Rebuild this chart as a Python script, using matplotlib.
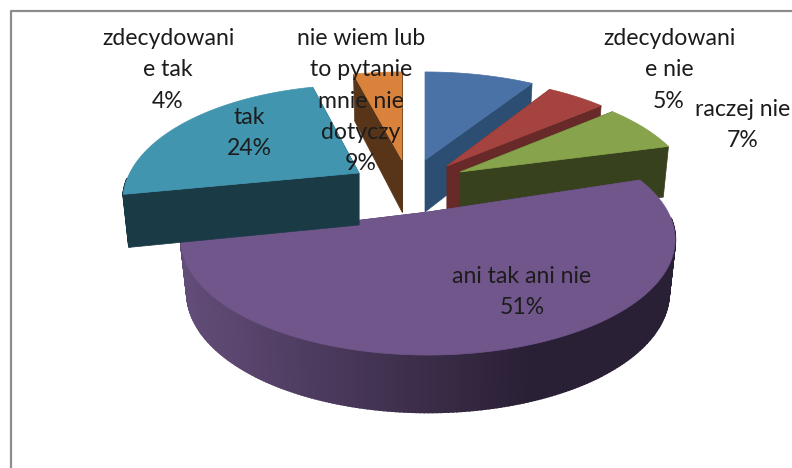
import numpy as np
from matplotlib import pyplot as plt
from matplotlib.patches import Polygon

plt.rcParams["font.family"] = ["Lato", "DejaVu Sans"]

# data, in drawing order (clockwise from the top)
categories = [
    "nie wiem lub\nto pytanie\nmnie nie\ndotyczy",
    "zdecydowani\ne nie",
    "raczej nie",
    "ani tak ani nie",
    "tak",
    "zdecydowani\ne tak",
]
percents = [9, 5, 7, 51, 24, 4]

# styles and layout, same order as the data
topColors = ["#4a72a6", "#a4433f", "#87a34b", "#71568c", "#4195ae", "#d9823b"]
wallColors = ["#2c4e73", "#682a28", "#38411d", "#4a3a5c", "#1a3a46", "#583519"]
apexes = [(425, 160), (447, 166), (460, 172), (428, 212), (359, 173), (402, 160)]
widthScales = [1.0, 0.96, 0.95, 1.0, 0.955, 1.0]
angleNudges = [0, 0, 0, 4, 0, 0]
labelCenters = [(361, 101), (669, 70), (743, 125), (522, 292), (249, 133), (168, 70)]
paintOrder = [0, 1, 2, 5, 3, 4]

START_ANGLE = 90.0
PERSPECTIVE = 0.238
SCALE_X = 240.0
SCALE_Y = 109.0
DEPTH = 52.0
BOTTOM_SHRINK = 0.975


def project(apex, angles, widthScale):
    u = np.cos(np.radians(angles))
    v = np.sin(np.radians(angles))
    w = 1 + PERSPECTIVE * v
    return apex[0] + SCALE_X * widthScale * u / w, apex[1] - SCALE_Y * v / w, v


def drop(apex, x, y, v):
    # same point on the underside of the pie
    return apex[0] + (x - apex[0]) * BOTTOM_SHRINK, y + DEPTH * (1 - 0.1 * v)


def quad(ax, xs, ys, color, zorder, linewidth=0.5):
    ax.add_patch(
        Polygon(
            np.column_stack([xs, ys]),
            closed=True,
            facecolor=color,
            edgecolor=color,
            linewidth=linewidth,
            zorder=zorder,
        )
    )


def drawSlice(ax, apex, start, sweep, widthScale, topColor, wallColor, zorder, shaded=False):
    angles = np.linspace(start, start - sweep, 240)
    x, y, v = project(apex, angles, widthScale)
    xb, yb = drop(apex, x, y, v)
    ax0, ay0 = apex
    bx0, by0 = apex[0], apex[1] + DEPTH

    # the two straight walls
    quad(ax, [ax0, x[0], xb[0], bx0], [ay0, y[0], yb[0], by0], wallColor, zorder)
    quad(ax, [ax0, x[-1], xb[-1], bx0], [ay0, y[-1], yb[-1], by0], wallColor, zorder)

    # rounded wall, cut in strips so it can carry the shading
    left = np.array([0x62, 0x4c, 0x78]) / 255
    right = np.array([0x2a, 0x20, 0x35]) / 255
    for i in range(len(angles) - 1):
        # far side of the rim is behind the top face
        if v[i] > -0.05:
            continue
        color = wallColor
        if shaded:
            t = np.clip((x[i] - 185) / (530 - 185), 0, 1)
            color = tuple(left + (right - left) * t)
        quad(
            ax,
            [x[i], x[i + 1], xb[i + 1], xb[i]],
            [y[i], y[i + 1], yb[i + 1], yb[i]],
            color,
            zorder + 0.1,
            linewidth=1.5,
        )

    quad(ax, np.r_[ax0, x], np.r_[ay0, y], topColor, zorder + 0.2)


def main() -> None:
    fig = plt.figure(figsize=(7.92, 4.68), dpi=100)
    ax = fig.add_axes([0, 0, 1, 1])
    ax.set_xlim(0, 792)
    ax.set_ylim(468, 0)
    ax.axis("off")

    # chart frame, only top and left are in view
    ax.plot([10.5, 10.5, 792], [468, 11, 11], color="#8c8c8c", linewidth=1.6, zorder=1)

    sweeps = np.array(percents) / sum(percents) * 360
    starts = START_ANGLE - np.r_[0, np.cumsum(sweeps)[:-1]]

    for order, i in enumerate(paintOrder):
        drawSlice(
            ax,
            apexes[i],
            starts[i] + angleNudges[i],
            sweeps[i],
            widthScales[i],
            topColors[i],
            wallColors[i],
            zorder=2 + order,
            shaded=categories[i] == "ani tak ani nie",
        )

    for category, percent, center in zip(categories, percents, labelCenters):
        ax.text(
            center[0],
            center[1],
            f"{category}\n{percent}%",
            ha="center",
            va="center",
            fontsize=16.6,
            color="#1c1c1c",
            linespacing=1.6,
            zorder=20,
        )

    fig.savefig("out.png", dpi=100)


if __name__ == "__main__":
    main()
